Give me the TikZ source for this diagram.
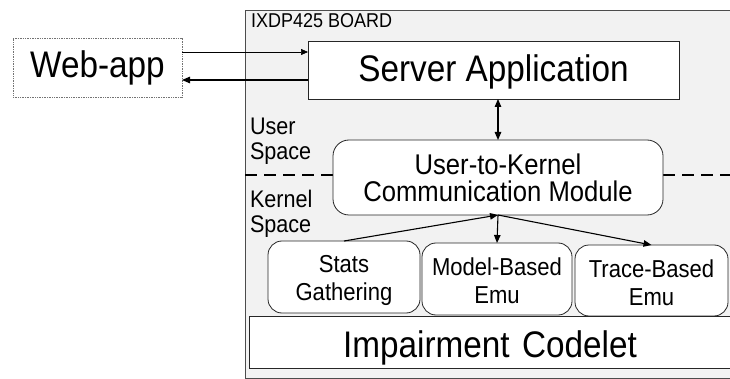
\documentclass[tikz,border=0pt]{standalone}
\usepackage{fontspec}
\setmainfont{Liberation Sans}[FakeStretch=0.9]
\usetikzlibrary{arrows.meta,calc}

\definecolor{boardfill}{gray}{0.95}

\begin{document}
\begin{tikzpicture}[x=1pt,y=-1pt,
  every node/.style={inner sep=0pt, outer sep=0pt},
  boardbox/.style={draw=black!70, line width=0.6pt, fill=boardfill, rectangle},
  plainbox/.style={draw=black!85, line width=0.8pt, fill=white, rectangle, align=center},
  dottedbox/.style={draw=black!55, line width=0.6pt, dash pattern=on 1pt off 0.7pt, fill=white, rectangle},
  roundbox/.style={plainbox, rounded corners=14pt},
  separator/.style={line width=1.1pt, dash pattern=on 12pt off 7pt},
  link/.style={line width=1.1pt, -{Triangle[length=8pt,width=6.5pt]}},
  duallink/.style={line width=1.1pt, {Triangle[length=8pt,width=6.5pt]}-{Triangle[length=8pt,width=6.5pt]}},
  thinlink/.style={line width=0.6pt, -{Triangle[length=7pt,width=6pt]}},
  bigfont/.style={font=\fontsize{37}{40}\selectfont},
  midfont/.style={font=\fontsize{28.5}{27}\selectfont},
  boxfont/.style={font=\fontsize{24.5}{28}\selectfont, align=center, anchor=base},
  sidefont/.style={font=\fontsize{24}{25}\selectfont},
  namefont/.style={font=\fontsize{20}{22}\selectfont}]

\useasboundingbox (0,0) rectangle (730,379);

% the board and its user/kernel divider
\node[boardbox, anchor=north west, minimum width=495pt, minimum height=368pt] (board) at (245,10) {};
\node[namefont, anchor=base west] (boardname) at (251,28) {IXDP425 BOARD};
\draw[separator] (board.west |- 0,175) -- (board.east |- 0,175);

\node[sidefont, anchor=base west, align=left] (userspace) at (250,160) {User\\Space};
\node[sidefont, anchor=base west, align=left] (kernelspace) at (250,233) {Kernel\\Space};

% boxes
\node[dottedbox, bigfont, minimum width=169pt, minimum height=59pt] (web) at (97.5,67.5) {Web-app};
\node[plainbox, bigfont, text depth=3pt, minimum width=371pt, minimum height=58pt] (server) at (493.5,70) {Server Application};
\node[roundbox, midfont, rounded corners=16pt, minimum width=330pt, minimum height=75pt] (comm) at (498,177.5) {User-to-Kernel\\Communication Module};
\node[roundbox, minimum width=152pt, minimum height=72pt] (stats) at (344,277) {};
\node[roundbox, minimum width=150pt, minimum height=72pt] (model) at (497,279) {};
\node[roundbox, minimum width=153pt, minimum height=71pt] (trace) at (651.5,280.5) {};
\node[boxfont] (statstext) at (344,300) {Stats\\Gathering};
\node[boxfont] (modeltext) at (497,303) {Model-Based\\Emu};
\node[boxfont] (tracetext) at (651.5,305) {Trace-Based\\Emu};
\node[plainbox, bigfont, text height=31pt, text depth=0pt, anchor=north west, minimum width=491pt, minimum height=52pt, text width=481pt] (impair) at (249,316) {\hspace*{-9pt}Impairment Codelet};

% connectors
\path ([yshift=15.5pt]web.east) coordinate (toserver);
\path ([yshift=-12.5pt]web.east) coordinate (toweb);
\draw[thinlink] (toserver) -- (toserver -| server.west);
\draw[link] (toweb -| server.west) -- (toweb);
\draw[duallink] (comm.north |- server.south) -- (comm.north);
\draw[link] (stats.north) -- (comm.south);
\draw[link] (comm.south) -- (model.north);
\draw[link] (comm.south) -- (trace.north);

\end{tikzpicture}
\end{document}
